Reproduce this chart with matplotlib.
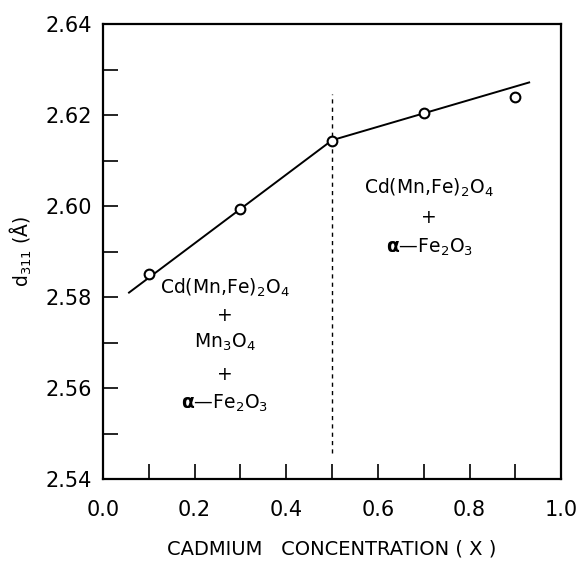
import matplotlib.pyplot as plt
import matplotlib.ticker as mticker

# measured points (open circles)
cd_x = [0.1, 0.3, 0.5, 0.7, 0.9]
d311 = [2.585, 2.5993, 2.6144, 2.6204, 2.624]

# drawn trend line (two straight segments)
fit_x = [0.057, 0.5, 0.93]
fit_y = [2.581, 2.6145, 2.6272]

# phase boundary
boundary_x = 0.5
boundary_y = [2.5457, 2.6246]

left_phases = ["Cd(Mn,Fe)$_2$O$_4$", "+", "Mn$_3$O$_4$", "+",
               r"$\mathbf{\alpha}$—Fe$_2$O$_3$"]
left_pos_y = [2.582, 2.576, 2.570, 2.5629, 2.5567]
right_phases = ["Cd(Mn,Fe)$_2$O$_4$", "+", r"$\mathbf{\alpha}$—Fe$_2$O$_3$"]
right_pos_y = [2.604, 2.5976, 2.591]

plt.rcParams['font.family'] = ['DejaVu Sans']
plt.rcParams['mathtext.fontset'] = 'dejavusans'

fig = plt.figure(figsize=(5.78, 5.63), dpi=100)
ax = fig.add_axes([0.178, 0.149, 0.793, 0.808])

ax.plot(fit_x, fit_y, color='black', lw=1.4, zorder=2)
ax.plot(cd_x, d311, linestyle='none', marker='o', ms=7, mfc='white',
        mec='black', mew=1.5, zorder=3)
ax.plot([boundary_x, boundary_x], boundary_y, color='black', lw=1.0,
        linestyle=(0, (3, 3)), zorder=1)

for txt, yy in zip(left_phases, left_pos_y):
    ax.text(0.266, yy, txt, ha='center', va='center', fontsize=13.5)
for txt, yy in zip(right_phases, right_pos_y):
    ax.text(0.712, yy, txt, ha='center', va='center', fontsize=13.5)

ax.set_xlim(0.0, 1.0)
ax.set_ylim(2.54, 2.64)
ax.xaxis.set_major_locator(mticker.MultipleLocator(0.2))
ax.xaxis.set_minor_locator(mticker.MultipleLocator(0.1))
ax.yaxis.set_major_locator(mticker.MultipleLocator(0.02))
ax.yaxis.set_minor_locator(mticker.MultipleLocator(0.01))
ax.xaxis.set_major_formatter(mticker.FormatStrFormatter('%.1f'))
ax.yaxis.set_major_formatter(mticker.FormatStrFormatter('%.2f'))

ax.tick_params(axis='both', which='both', direction='in', length=11,
               width=1.2, top=False, right=False)
ax.tick_params(axis='x', which='major', pad=15, labelsize=15)
ax.tick_params(axis='y', which='major', pad=8, labelsize=15)

for sp in ax.spines.values():
    sp.set_linewidth(1.6)

ax.set_xlabel("CADMIUM   CONCENTRATION ( X )", fontsize=14, labelpad=14)
ax.set_ylabel("d$_{311}$ (Å)", fontsize=13.5, labelpad=8)

fig.savefig("out.png", dpi=100)
